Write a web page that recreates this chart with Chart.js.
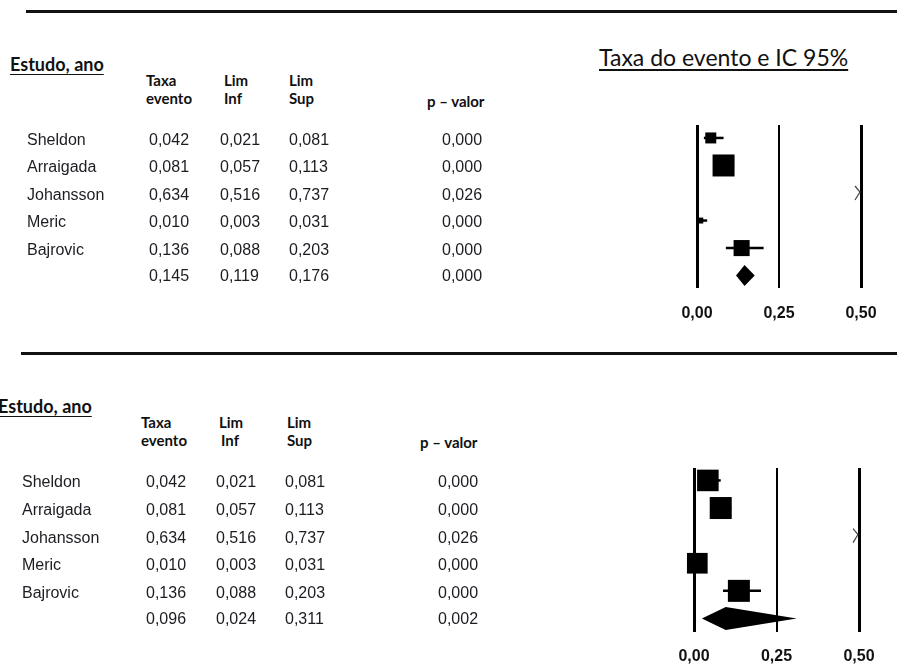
<!DOCTYPE html>
<html>
<head>
<meta charset="utf-8">
<script src="https://cdn.jsdelivr.net/npm/chart.js@4.4.1/dist/chart.umd.min.js"></script>
<style>
  html, body { margin: 0; padding: 0; background: #fff; }
  body { width: 897px; height: 664px; position: relative; overflow: hidden; }
  .rule { position: absolute; height: 3px; background: #111; }
  .hd { position: absolute; font-family: Lato, "Open Sans", sans-serif; font-weight: 700; font-size: 15px;
        color: #111; line-height: 18px; white-space: nowrap; }
  .est { font-size: 18px; text-decoration: underline; text-underline-offset: 3px; }
  .tt { font-weight: 400; font-size: 23px; text-decoration: underline; text-underline-offset: 3px; }
  canvas { position: absolute; left: 0; }
</style>
</head>
<body>

<div class="rule" style="left:26px; top:10px; width:871px;"></div>
<div class="hd est" style="left:10px; top:55px;">Estudo, ano</div>
<div class="hd" style="left:146px; top:71px;">Taxa</div>
<div class="hd" style="left:146px; top:89px;">evento</div>
<div class="hd" style="left:224px; top:71px;">Lim</div>
<div class="hd" style="left:224px; top:89px;">Inf</div>
<div class="hd" style="left:289px; top:71px;">Lim</div>
<div class="hd" style="left:289px; top:89px;">Sup</div>
<div class="hd" style="left:427px; top:92px;">p – valor</div>
<div class="hd tt" style="left:599px; top:48px;">Taxa do evento e IC 95%</div>
<canvas id="fixo" width="897" height="340" style="top:0px;"></canvas>

<div class="rule" style="left:21px; top:352px; width:876px;"></div>
<div class="hd est" style="left:-2px; top:397px;">Estudo, ano</div>
<div class="hd" style="left:141px; top:413px;">Taxa</div>
<div class="hd" style="left:141px; top:431px;">evento</div>
<div class="hd" style="left:219px; top:413px;">Lim</div>
<div class="hd" style="left:221px; top:431px;">Inf</div>
<div class="hd" style="left:287px; top:413px;">Lim</div>
<div class="hd" style="left:287px; top:431px;">Sup</div>
<div class="hd" style="left:420px; top:433px;">p – valor</div>
<canvas id="aleat" width="897" height="324" style="top:340px;"></canvas>

<script>
// Studies and their event rates with 95% CI
const estudos = ['Sheldon', 'Arraigada', 'Johansson', 'Meric', 'Bajrovic'];
const taxa    = [0.042, 0.081, 0.634, 0.010, 0.136];
const limInf  = [0.021, 0.057, 0.516, 0.003, 0.088];
const limSup  = [0.081, 0.113, 0.737, 0.031, 0.203];
const pValor  = [0.000, 0.000, 0.026, 0.000, 0.000];

// Pooled estimate, fixed effect: [rate, lower, upper]
const resumoFixo = [0.145, 0.119, 0.176];
const pFixo = 0.000;
// Relative study weights, fixed effect
const pesoFixo = [0.50, 1.00, 0.60, 0.27, 0.73];

// Pooled estimate, random effects: [rate, lower, upper]
const resumoAleat = [0.096, 0.024, 0.311];
const pAleat = 0.002;
// Relative study weights, random effects
const pesoAleat = [0.98, 1.00, 0.95, 0.94, 1.00];

// Axis ticks
const eixoTicks = [0, 0.25, 0.5];

const fmt = v => v.toFixed(3).replace('.', ',');
const fmtTick = v => v.toFixed(2).replace('.', ',');

function painel(id, cfg) {
  const { resumo, pRes, peso } = cfg;
  const nRes = estudos.length; // row index of the pooled estimate
  const clip = { left: false, top: false, right: 0, bottom: false };

  const ciSets = estudos.map((e, i) => ({
    data: [{ x: limInf[i], y: i }, { x: limSup[i], y: i }],
    showLine: true,
    borderColor: '#000',
    borderWidth: 2.5,
    pointRadius: 0,
    order: 2,
    clip
  }));

  const quadrados = {
    data: taxa.map((v, i) => ({ x: v, y: i })),
    pointStyle: 'rect',
    pointRadius: peso.map(w => w * cfg.lado / Math.SQRT2),
    backgroundColor: '#000',
    borderWidth: 0,
    order: 1,
    clip
  };

  const extras = {
    id: 'forestExtras',
    afterDatasetsDraw(chart) {
      const { ctx, scales: { x, y } } = chart;
      ctx.save();
      // pooled estimate diamond
      const yc = y.getPixelForValue(nRes);
      const h = cfg.meiaAltura;
      ctx.beginPath();
      ctx.moveTo(x.getPixelForValue(resumo[1]), yc);
      ctx.lineTo(x.getPixelForValue(resumo[0]), yc - h);
      ctx.lineTo(x.getPixelForValue(resumo[2]), yc);
      ctx.lineTo(x.getPixelForValue(resumo[0]), yc + h);
      ctx.closePath();
      ctx.fillStyle = '#000';
      ctx.fill();
      // arrows for estimates beyond the axis
      const xm = x.getPixelForValue(x.max) - 1;
      ctx.strokeStyle = '#444';
      ctx.lineWidth = 1.2;
      taxa.forEach((v, i) => {
        if (v > x.max) {
          const yy = y.getPixelForValue(i);
          ctx.beginPath();
          ctx.moveTo(xm - 5, yy - 7);
          ctx.lineTo(xm, yy - 1);
          ctx.lineTo(xm - 5, yy + 7);
          ctx.stroke();
        }
      });
      ctx.restore();
    },
    afterDraw(chart) {
      const { ctx, scales: { y } } = chart;
      const c = cfg.colunas;
      ctx.save();
      ctx.font = '16px "Liberation Sans", Arial, sans-serif';
      ctx.fillStyle = '#1c1c22';
      ctx.textBaseline = 'middle';
      ctx.textAlign = 'left';
      estudos.forEach((e, i) => {
        const yy = y.getPixelForValue(i) + 2.5;
        ctx.fillText(e, c[0], yy);
        ctx.fillText(fmt(taxa[i]), c[1], yy);
        ctx.fillText(fmt(limInf[i]), c[2], yy);
        ctx.fillText(fmt(limSup[i]), c[3], yy);
        ctx.fillText(fmt(pValor[i]), c[4], yy);
      });
      const yr = y.getPixelForValue(nRes) + 1;
      ctx.fillText(fmt(resumo[0]), c[1], yr);
      ctx.fillText(fmt(resumo[1]), c[2], yr);
      ctx.fillText(fmt(resumo[2]), c[3], yr);
      ctx.fillText(fmt(pRes), c[4], yr);
      ctx.restore();
    }
  };

  return new Chart(document.getElementById(id), {
    type: 'scatter',
    data: { datasets: [...ciSets, quadrados] },
    plugins: [extras],
    options: {
      responsive: false,
      animation: false,
      events: [],
      layout: { padding: cfg.padding },
      plugins: { legend: { display: false }, tooltip: { enabled: false } },
      scales: {
        x: {
          type: 'linear',
          min: eixoTicks[0],
          max: eixoTicks[eixoTicks.length - 1],
          afterBuildTicks: s => { s.ticks = eixoTicks.map(v => ({ value: v })); },
          afterFit: s => { s.height = cfg.alturaEixo; },
          border: { display: false },
          grid: {
            color: '#000',
            lineWidth: c => (c.tick && c.tick.value === 0.25 ? 2 : 3),
            drawTicks: false
          },
          ticks: {
            padding: cfg.tickPad,
            color: '#111',
            font: { family: '"Liberation Sans", Arial, sans-serif', size: 16, weight: 'bold' },
            callback: v => fmtTick(v)
          }
        },
        y: {
          type: 'linear',
          display: false,
          reverse: true,
          min: cfg.yMin,
          max: cfg.yMax
        }
      }
    }
  });
}

painel('fixo', {
  resumo: resumoFixo, pRes: pFixo, peso: pesoFixo,
  lado: 22, meiaAltura: 10.5,
  padding: { left: 697, right: 36, top: 125, bottom: 12 },
  alturaEixo: 40, tickPad: 16,
  yMin: -0.47, yMax: 5.45,
  colunas: [27, 149, 220, 289, 442]
});

painel('aleat', {
  resumo: resumoAleat, pRes: pAleat, peso: pesoAleat,
  lado: 22, meiaAltura: 11.5,
  padding: { left: 694, right: 38, top: 128, bottom: 0 },
  alturaEixo: 32, tickPad: 15,
  yMin: -0.45, yMax: 5.49,
  colunas: [22, 146, 216, 285, 438]
});
</script>
</body>
</html>
